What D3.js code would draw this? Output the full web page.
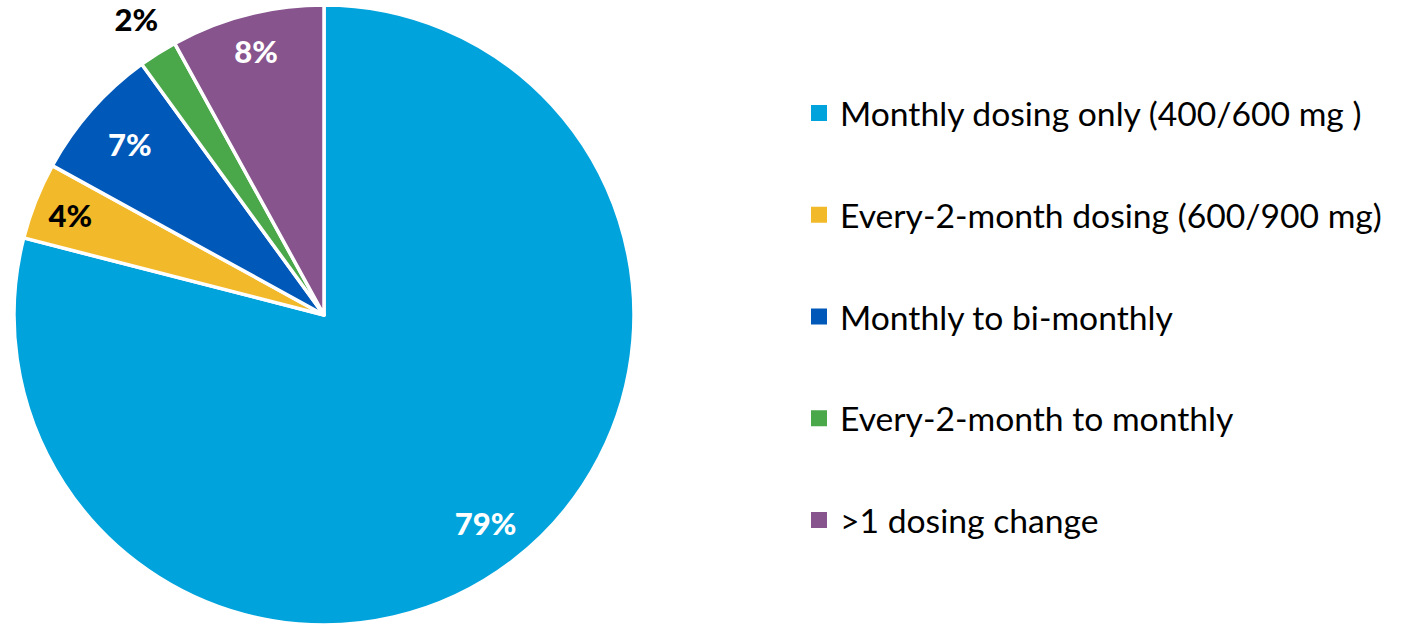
<!DOCTYPE html>
<html>
<head>
<meta charset="utf-8">
<script src="https://cdn.jsdelivr.net/npm/d3@7"></script>
<style>
  body { margin: 0; background: #fff; }
  svg { display: block; }
</style>
</head>
<body>
<svg id="chart"></svg>
<script>
var categories = [
  "Monthly dosing only (400/600 mg )",
  "Every-2-month dosing (600/900 mg)",
  "Monthly to bi-monthly",
  "Every-2-month to monthly",
  ">1 dosing change"
];
var values = [79, 4, 7, 2, 8];
var labels = ["79%", "4%", "7%", "2%", "8%"];
var colors = ["#00a3dc", "#f2b92a", "#0058b8", "#4aa84a", "#87548e"];
var labelColors = ["#fff", "#000", "#fff", "#000", "#fff"];
// how far out each label sits, as a share of the radius
var labelRadius = [0.85, 0.88, 0.835, 1.13, 0.88];

var width = 1402, height = 627;
var cx = 324, cy = 315, radius = 310;

var svg = d3.select("#chart")
  .attr("width", width)
  .attr("height", height);

var pie = d3.pie().sort(null).value(function(d) { return d; });
var arcs = pie(values);

var arc = d3.arc().innerRadius(0).outerRadius(radius);

var g = svg.append("g")
  .attr("transform", "translate(" + cx + "," + cy + ")");

g.selectAll("path")
  .data(arcs)
  .enter()
  .append("path")
  .attr("d", arc)
  .attr("fill", function(d, i) { return colors[i]; })
  .attr("stroke", "#fff")
  .attr("stroke-width", 3.5)
  .attr("stroke-linejoin", "round");

g.selectAll("text.lbl")
  .data(arcs)
  .enter()
  .append("text")
  .attr("class", "lbl")
  .attr("transform", function(d, i) {
    var r = radius * labelRadius[i];
    var p = d3.arc().innerRadius(r).outerRadius(r).centroid(d);
    return "translate(" + p[0] + "," + p[1] + ")";
  })
  .attr("text-anchor", "middle")
  .attr("dominant-baseline", "central")
  .attr("font-family", "Lato, 'Open Sans', sans-serif")
  .attr("font-weight", 900)
  .attr("font-size", 31)
  .attr("fill", function(d, i) { return labelColors[i]; })
  .text(function(d, i) { return labels[i]; });

// legend
var legendY = d3.scalePoint()
  .domain(categories)
  .range([113, 520]);

var legend = svg.append("g");

var items = legend.selectAll("g")
  .data(categories)
  .enter()
  .append("g")
  .attr("transform", function(d) { return "translate(811," + legendY(d) + ")"; });

items.append("rect")
  .attr("x", 0)
  .attr("y", -8)
  .attr("width", 16)
  .attr("height", 16)
  .attr("fill", function(d, i) { return colors[i]; });

var texts = items.append("text")
  .attr("x", 29)
  .attr("dominant-baseline", "central")
  .attr("font-family", "Lato, 'Open Sans', sans-serif")
  .attr("font-size", 29)
  .attr("fill", "#000")
  .text(function(d) { return d; });

// fit font so the longest entry spans like the original
var longest = texts.filter(function(d, i) { return i === 1; }).node().getComputedTextLength();
var fs = 29 * 542 / longest;
texts.attr("font-size", fs);
</script>
</body>
</html>
